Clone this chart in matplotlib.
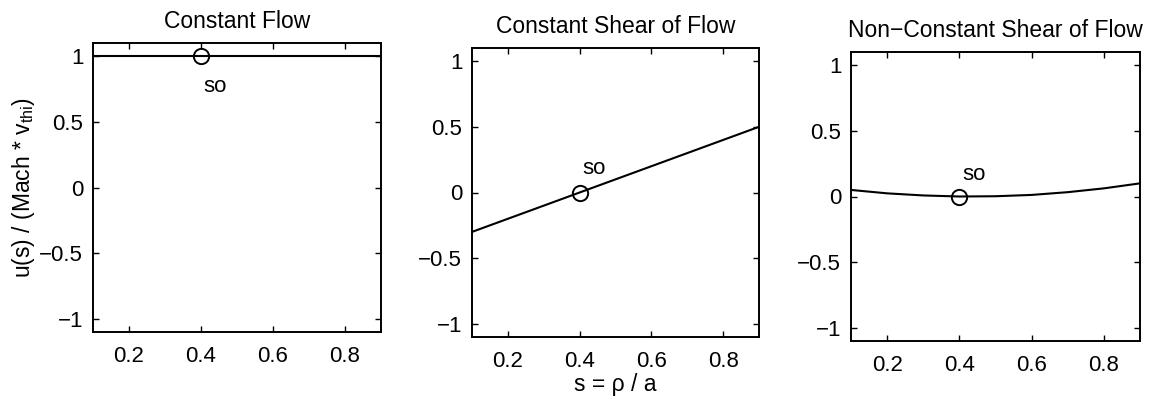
import matplotlib
matplotlib.use("Agg")
import matplotlib.pyplot as plt

plt.rcParams['font.family'] = ['Liberation Sans', 'DejaVu Sans']

# Data
s_points = [0.1, 0.2, 0.3, 0.4, 0.5, 0.6, 0.7, 0.8, 0.9]
u_constant = [1.0, 1.0, 1.0, 1.0, 1.0, 1.0, 1.0, 1.0, 1.0]
u_const_shear = [-0.3, -0.2, -0.1, 0.0, 0.1, 0.2, 0.3, 0.4, 0.5]
u_nonconst_shear = [0.05, 0.024, 0.008, 0.0, 0.002, 0.012, 0.033, 0.062, 0.10]
s0 = 0.4
u0_values = [1.0, 0.0, 0.0]
titles = ["Constant Flow", "Constant Shear of Flow", "Non\u2212Constant Shear of Flow"]
label_pos = [(0.44, 0.77), (0.44, 0.18), (0.44, 0.17)]
xticks = [0.2, 0.4, 0.6, 0.8]
yticks = [-1, -0.5, 0, 0.5, 1]

W, H = 1165, 409
fig = plt.figure(figsize=(W / 100, H / 100), dpi=100)
boxes = [(93, 43, 381, 332), (472, 48, 759, 337), (851, 52, 1140, 341)]
series = [u_constant, u_const_shear, u_nonconst_shear]

for i, (l, t, r, b) in enumerate(boxes):
    ax = fig.add_axes([l / W, 1 - b / H, (r - l) / W, (b - t) / H])
    ax.plot(s_points, series[i], color='black', lw=1.5)
    ax.plot([s0], [u0_values[i]], 'o', mfc='none', mec='black', ms=11, mew=1.4)
    ax.text(label_pos[i][0], label_pos[i][1], "so", ha='center', va='center', fontsize=16)
    ax.set_xlim(0.1, 0.9)
    ax.set_ylim(-1.1, 1.1)
    ax.set_xticks(xticks)
    ax.set_xticklabels([f"{v:g}" for v in xticks])
    ax.set_yticks(yticks)
    ax.set_yticklabels([f"{v:g}".replace('-', '\u2212') for v in yticks])
    ax.tick_params(axis='x', pad=10)
    ax.tick_params(axis='y', pad=7)
    ax.tick_params(direction='in', top=True, right=True, labelsize=16, length=4, width=1)
    for sp in ax.spines.values():
        sp.set_linewidth(1.4)
    ax.set_title(titles[i], fontsize=16.5, pad=11)
    if i == 0:
        ax.set_ylabel("u(s) / (Mach * v$_{\\mathregular{thi}}$)", fontsize=16.5, labelpad=2)
    if i == 1:
        ax.set_xlabel("s = \u03c1 / a", fontsize=16.5, labelpad=1)

fig.savefig("out.png", dpi=100)
